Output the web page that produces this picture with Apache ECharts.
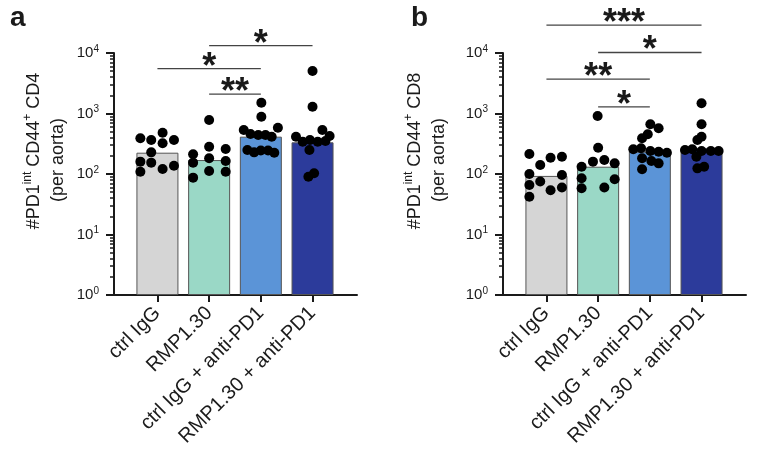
<!DOCTYPE html>
<html>
<head>
<meta charset="utf-8">
<script src="https://cdn.jsdelivr.net/npm/echarts@6/dist/echarts.min.js"></script>
<style>
  html, body { margin: 0; padding: 0; background: #fff; }
  #chart { width: 762px; height: 462px; }
</style>
</head>
<body>
<div id="chart"></div>
<script>
const categories = ['ctrl IgG', 'RMP1.30', 'ctrl IgG + anti-PD1', 'RMP1.30 + anti-PD1'];
const barColors = ['#d5d5d5', '#9ad8c6', '#5b94d7', '#2c3b9b'];
const yTickValues = [1, 10, 100, 1000, 10000];

// panel a: CD4
const cd4Bars = [225, 170, 414, 334];
const cd4Points = [
  [389, 365, 482, 365, 322, 228, 160, 154, 137, 121, 109],
  [781, 283, 212, 259, 182, 154, 164, 112, 109, 87],
  [1510, 885, 533, 583, 458, 441, 441, 414, 250, 228, 245, 245, 225],
  [5040, 1295, 414, 342, 365, 342, 533, 425, 350, 249, 103, 90]
];
const cd4Jitter = [
  [-0.33, -0.12, 0.10, 0.32, 0.10, -0.12, -0.33, -0.12, 0.32, 0.10, -0.33],
  [0, 0, -0.31, 0.32, 0, -0.31, 0.32, 0, 0.32, -0.31],
  [0.01, 0.01, -0.33, 0.33, -0.2, -0.05, 0.09, 0.21, -0.26, -0.13, 0, 0.14, 0.26],
  [0, 0, -0.32, -0.19, -0.05, 0.1, 0.19, 0.33, 0.25, -0.06, 0.03, -0.08]
];
const cd4Stats = [[1, 3, 13200, '*'], [0, 2, 5500, '*'], [1, 2, 2090, '**']];

// panel b: CD8
const cd8Bars = [93, 132, 234, 266];
const cd8Points = [
  [214, 141, 186, 193, 100, 75, 96, 66, 54, 60, 42],
  [910, 272, 160, 170, 150, 132, 85, 82, 58, 60],
  [663, 569, 453, 389, 256, 266, 240, 234, 225, 182, 164, 150, 120],
  [1473, 663, 414, 365, 249, 256, 240, 240, 240, 193, 124, 132]
];
const cd8Jitter = [
  [-0.33, -0.12, 0.08, 0.30, -0.33, -0.12, 0.30, -0.33, 0.08, 0.30, -0.33],
  [-0.01, 0, -0.1, 0.12, 0.32, -0.32, -0.32, 0.32, -0.32, 0.12],
  [0.01, 0.17, -0.04, -0.15, -0.32, -0.17, 0.01, 0.17, 0.33, -0.15, 0.03, 0.17, -0.15],
  [0, 0, 0, -0.08, -0.32, -0.18, 0, 0.18, 0.33, -0.1, -0.08, 0.05]
];
const cd8Stats = [[0, 3, 28800, '***'], [1, 3, 10200, '*'], [0, 2, 3700, '**'], [1, 2, 1290, '*']];

const font = '"Liberation Sans", Arial, sans-serif';
const ink = '#1a1a1a';

const yMinorValues = [];
for (let d = 1; d < 10000; d *= 10) {
  for (let m = 2; m <= 9; m++) yMinorValues.push(m * d);
}

const chart = echarts.init(document.getElementById('chart'), null, { renderer: 'canvas' });

function xAxisFor(i) {
  return {
    type: 'value', gridIndex: i, min: -0.84, max: 3.86,
    axisLine: { onZero: false, lineStyle: { color: ink, width: 2 } },
    axisTick: { customValues: [0, 1, 2, 3], length: 7, lineStyle: { color: ink, width: 2 } },
    axisLabel: {
      customValues: [0, 1, 2, 3],
      formatter: (v) => categories[Math.round(v)],
      rotate: 45, margin: 15, fontSize: 20, color: ink, fontFamily: font
    },
    splitLine: { show: false }
  };
}

function yAxisFor(i, cell, gap) {
  return {
    type: 'log', logBase: 10, gridIndex: i, position: 'left', min: 1, max: 10000,
    axisLine: { show: true, onZero: false, lineStyle: { color: ink, width: 2 } },
    axisTick: { show: true, customValues: yTickValues, length: 8, lineStyle: { color: ink, width: 2 } },
    axisLabel: {
      customValues: yTickValues, margin: 15,
      formatter: (v) => '{b|10}{s|' + Math.round(Math.log10(v)) + '}',
      rich: {
        b: { fontSize: 15, lineHeight: 18, color: ink, fontFamily: font },
        s: { fontSize: 10, lineHeight: 10, verticalAlign: 'top', color: ink, fontFamily: font }
      }
    },
    splitLine: { show: false },
    name: '{a|#PD1}{s|int}{a| CD44}{s|+}{a| ' + cell + '}\n{p|(per aorta)}',
    nameLocation: 'middle', nameGap: gap, nameRotate: 90,
    nameTextStyle: {
      padding: [0, 0, 0, 46],
      rich: {
        a: { fontSize: 18, lineHeight: 24, color: ink, fontFamily: font },
        s: { fontSize: 12, lineHeight: 14, verticalAlign: 'top', color: ink, fontFamily: font },
        p: { fontSize: 18, lineHeight: 24, padding: [0, 18, 0, 0], color: ink, fontFamily: font }
      }
    }
  };
}

function minorAxisFor(i) {
  return {
    type: 'log', logBase: 10, gridIndex: i, position: 'left', min: 1, max: 10000,
    axisLine: { show: false, onZero: false },
    axisTick: { show: true, customValues: yMinorValues, length: 4, lineStyle: { color: ink, width: 1.5 } },
    axisLabel: { show: false },
    splitLine: { show: false }
  };
}

function panelSeries(i, bars, points, jitter, stats) {
  const dots = [];
  points.forEach((grp, g) => {
    grp.forEach((v, k) => dots.push([g + jitter[g][k], v]));
  });
  return [
    {
      type: 'bar', xAxisIndex: i, yAxisIndex: i, barWidth: 42, z: 2,
      itemStyle: { borderColor: '#555', borderWidth: 1 },
      data: bars.map((v, g) => ({ value: [g, v], itemStyle: { color: barColors[g] } }))
    },
    {
      type: 'scatter', xAxisIndex: i, yAxisIndex: i, symbolSize: 10, z: 3,
      itemStyle: { color: '#000', opacity: 1 },
      data: dots
    },
    {
      type: 'custom', xAxisIndex: i, yAxisIndex: i, clip: false, z: 4,
      encode: { x: [0, 1], y: 2 },
      data: stats.map((s) => [s[0], s[1], s[2]]),
      renderItem: (params, api) => {
        const p1 = api.coord([api.value(0), api.value(2)]);
        const p2 = api.coord([api.value(1), api.value(2)]);
        return {
          type: 'group',
          children: [
            { type: 'line', shape: { x1: p1[0], y1: p1[1], x2: p2[0], y2: p1[1] },
              style: { stroke: '#444', lineWidth: 1.3 } },
            { type: 'text', x: (p1[0] + p2[0]) / 2, y: p1[1] - 1,
              style: { text: stats[params.dataIndex][3], fill: ink,
                font: 'bold 36px ' + font, align: 'center', verticalAlign: 'middle' } }
          ]
        };
      }
    }
  ];
}

chart.setOption({
  animation: false,
  title: [
    { text: 'a', left: 5, top: -1, textStyle: { fontSize: 28, fontWeight: 'bold', color: ink, fontFamily: font } },
    { text: 'b', left: 406, top: -1, textStyle: { fontSize: 28, fontWeight: 'bold', color: ink, fontFamily: font } }
  ],
  grid: [
    { left: 114, right: 405, top: 53, bottom: 167 },
    { left: 503, right: 16, top: 53, bottom: 167 }
  ],
  xAxis: [xAxisFor(0), xAxisFor(1)],
  yAxis: [yAxisFor(0, 'CD4', 44), yAxisFor(1, 'CD8', 52), minorAxisFor(0), minorAxisFor(1)],
  series: [
    ...panelSeries(0, cd4Bars, cd4Points, cd4Jitter, cd4Stats),
    ...panelSeries(1, cd8Bars, cd8Points, cd8Jitter, cd8Stats)
  ]
});
</script>
</body>
</html>
